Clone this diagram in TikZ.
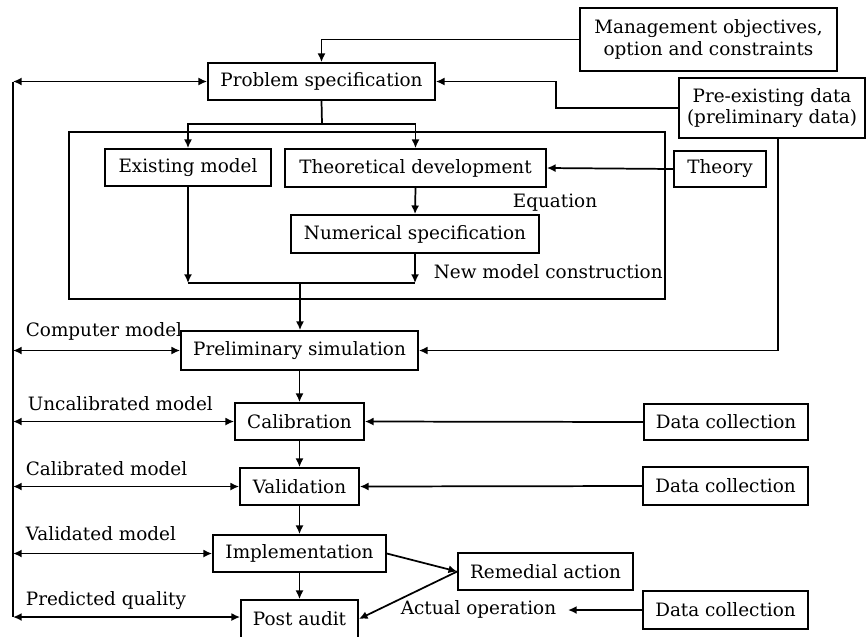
\documentclass[tikz,border=0pt]{standalone}
\usepackage{fontspec}
\setmainfont{DejaVu Serif}
\usetikzlibrary{arrows.meta}
\begin{document}
\begin{tikzpicture}[x=0.75pt,y=-0.75pt,
  line width=1.3pt,
  font=\fontsize{13.8}{16}\selectfont,
  box/.style 2 args={draw, inner sep=0pt, align=center,
    minimum width=#1*0.75pt, minimum height=#2*0.75pt},
  lbl/.style={inner sep=0pt, anchor=west},
  arr/.style={-{Latex[length=6.5pt,width=6pt]}},
  arrr/.style={{Latex[length=6.5pt,width=6pt]}-{Latex[length=6.5pt,width=6pt]}}]
\useasboundingbox (0,0) rectangle (866,636);

% process boxes
\node[box={257}{63}] (mgmt)   at (708.5,39.5) {Management objectives,\\option and constraints};
\node[box={227}{37}] (prob)   at (321.5,81.5) {Problem specification};
\node[box={186}{60}] (pre)    at (772,108)    {Pre-existing data\\(preliminary data)};
\draw (69,132) rectangle (665,299);
\node[box={166}{37}] (exist)  at (188,167.5)  {Existing model};
\node[box={261}{38}] (theo)   at (415.5,168)  {Theoretical development};
\node[box={92}{36}]  (theory) at (720,169)    {Theory};
\node[box={248}{38}] (num)    at (415,234)    {Numerical specification};
\node[box={237}{39}] (prelim) at (299.5,350.5){Preliminary simulation};
\node[box={129}{37}] (calib)  at (299.5,421.5){Calibration};
\node[box={164}{36}] (dc1)    at (726,422)    {Data collection};
\node[box={119}{37}] (valid)  at (299.5,486.5){Validation};
\node[box={165}{38}] (dc2)    at (725.5,486)  {Data collection};
\node[box={173}{37}] (impl)   at (299.5,553.5){Implementation};
\node[box={175}{37}] (remed)  at (545.5,571.5){Remedial action};
\node[box={117}{38}] (post)   at (299.5,619)  {Post audit};
\node[box={165}{38}] (dc3)    at (725.5,610)  {Data collection};

% labels
\node[lbl, anchor=center] (eqn) at (555,203) {Equation};
\node[lbl] (nmc)  at (433,272) {New model construction};
\node[lbl] (cm)   at (25,331)  {Computer model};
\node[lbl] (um)   at (27,404)  {Uncalibrated model};
\node[lbl] (calm) at (25,469)  {Calibrated model};
\node[lbl] (vm)   at (25,534)  {Validated model};
\node[lbl] (pq)   at (25,601)  {Predicted quality};
\node[lbl] (act)  at (400,609) {Actual operation};

% junctions
\coordinate (split) at (322,124);
\coordinate (jm) at (300,283);
\coordinate (acttip) at (568,610);
\coordinate (b1) at (13,81.5);
\coordinate (b2) at (13,350.5);
\coordinate (b3) at (13,421.5);
\coordinate (b4) at (13,486.5);
\coordinate (b5) at (13,553.5);
\coordinate (b6) at (13,617);

% connectors
\draw[arr] (mgmt.west) -| (prob.north);
\draw[arr] (pre.west) -- ++(-122,0) |- (prob.east);
\draw (prob.south) -- (split);
\draw[arr] (split) -| (exist.north);
\draw[arr] (split) -| (theo.north);
\draw[arr] (theory.west) -- (theo.east);
\draw[arr] (theo.south) -- (num.north);
\draw[arr] (exist.south) -- (exist.south |- jm);
\draw[arr] (num.south) -- (num.south |- jm);
\draw (exist.south |- jm) -- (num.south |- jm);
\draw[arr] (jm) -- (jm |- prelim.north);
\draw[arr] ([xshift=4.5pt]pre.south) |- (prelim.east);
\draw[arr] (prelim.south) -- (calib.north);
\draw[arr] (calib.south) -- (valid.north);
\draw[arr] (valid.south) -- (impl.north);
\draw[arr] (impl.south) -- (post.north);
\draw[arr] (dc1.west) -- (calib.east);
\draw[arr] (dc2.west) -- (valid.east);
\draw[arr] (impl.east) -- (remed.west);
\draw[arr] (remed.west) -- (post.east);
\draw[arr] (dc3.west) -- (acttip);

% feedback bus on the left
\draw (b1) -- (b6);
\draw[arrr] (b1) -- (prob.west);
\draw[arrr] (b2) -- (prelim.west);
\draw[arrr] (b3) -- (calib.west);
\draw[arrr] (b4) -- (valid.west);
\draw[arrr] (b5) -- (impl.west);
\draw[arrr] (b6) -- (b6 -| post.west);
\end{tikzpicture}
\end{document}
